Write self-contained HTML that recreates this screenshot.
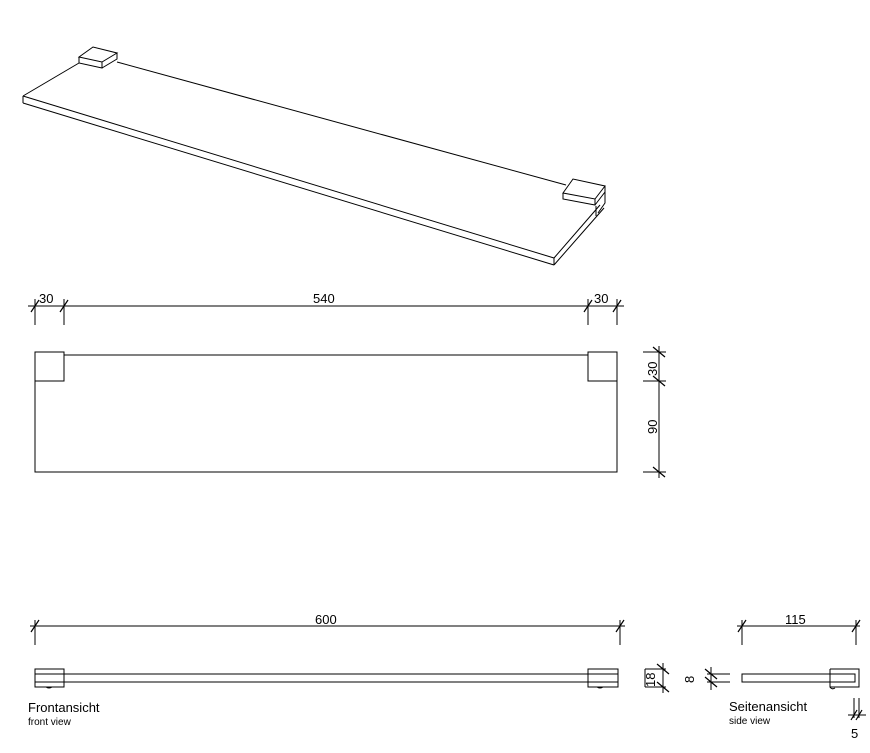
<!DOCTYPE html>
<html><head><meta charset="utf-8"><style>
html,body{margin:0;padding:0;background:#fff;}
svg{display:block;}
text{font-family:"Liberation Sans",Arial,sans-serif;fill:#000;}
</style></head><body>
<svg width="870" height="753" viewBox="0 0 870 753" xmlns="http://www.w3.org/2000/svg">
<g fill="none" stroke="#000" stroke-width="1">
<!-- isometric -->
<line x1="23" y1="96" x2="79" y2="63"/>
<line x1="23" y1="96" x2="23" y2="103"/>
<line x1="23" y1="96" x2="554" y2="258"/>
<line x1="23" y1="103" x2="554" y2="265"/>
<line x1="554" y1="258" x2="554" y2="265"/>
<line x1="554" y1="258" x2="600" y2="205"/>
<line x1="554" y1="265" x2="604" y2="208"/>
<line x1="117" y1="62" x2="566" y2="185"/>
<!-- left bracket -->
<polygon points="79,57 93,47 117,53 102,62" fill="#fff"/>
<polyline points="79,57 79,63 102,68 102,62"/>
<polyline points="102,68 117,59 117,53"/>
<!-- right bracket -->
<polygon points="563,193 573,179 605,186 595,199" fill="#fff"/>
<polyline points="563,193 563,199 595,205 595,199"/>
<polyline points="595,205 605,192 605,186"/>
<polyline points="605,192 605,203 598,213"/>
<line x1="596" y1="206" x2="596" y2="216"/>

<!-- top view dims -->
<line x1="28" y1="306" x2="624" y2="306"/>
<line x1="35" y1="299" x2="35" y2="325"/>
<line x1="64" y1="299" x2="64" y2="325"/>
<line x1="588" y1="299" x2="588" y2="325"/>
<line x1="617" y1="299" x2="617" y2="325"/>
<g stroke-width="1.2">
<line x1="31" y1="312" x2="39" y2="300"/><line x1="60" y1="312" x2="68" y2="300"/>
<line x1="584" y1="312" x2="592" y2="300"/><line x1="613" y1="312" x2="621" y2="300"/>
</g>
<!-- top view -->
<polyline points="35,352 35,472 617,472 617,352"/>
<rect x="35" y="352" width="29" height="29"/>
<rect x="588" y="352" width="29" height="29"/>
<line x1="64" y1="355" x2="588" y2="355"/>
<line x1="643" y1="352" x2="666" y2="352"/>
<line x1="643" y1="381" x2="666" y2="381"/>
<line x1="643" y1="472" x2="666" y2="472"/>
<line x1="659" y1="346" x2="659" y2="478"/>
<g stroke-width="1.2">
<line x1="653" y1="347" x2="665" y2="357"/><line x1="653" y1="376" x2="665" y2="386"/><line x1="653" y1="467" x2="665" y2="477"/>
</g>

<!-- front view dims -->
<line x1="30" y1="626" x2="625" y2="626"/>
<line x1="35" y1="620" x2="35" y2="645"/>
<line x1="620" y1="620" x2="620" y2="645"/>
<g stroke-width="1.2">
<line x1="31" y1="632" x2="39" y2="620"/><line x1="616" y1="632" x2="624" y2="620"/>
</g>
<!-- front view -->
<line x1="64" y1="674" x2="588" y2="674"/>
<line x1="64" y1="682" x2="588" y2="682"/>
<rect x="35" y="669" width="29" height="18"/>
<line x1="35" y1="674" x2="64" y2="674"/>
<line x1="35" y1="682" x2="64" y2="682"/>
<rect x="588" y="669" width="30" height="18"/>
<line x1="588" y1="674" x2="618" y2="674"/>
<line x1="588" y1="682" x2="618" y2="682"/>
<path d="M46,687 q3,2 6,0 M597,687 q3,2 6,0"/>
<!-- 18 dim -->
<line x1="645" y1="669" x2="666" y2="669"/>
<line x1="645" y1="687" x2="666" y2="687"/>
<line x1="663" y1="663" x2="663" y2="693"/>
<line x1="645" y1="669" x2="645" y2="687"/>
<g stroke-width="1.2"><line x1="657" y1="664" x2="669" y2="674"/><line x1="657" y1="682" x2="669" y2="692"/></g>
<!-- 8 dim -->
<line x1="707" y1="674" x2="730" y2="674"/>
<line x1="707" y1="682" x2="730" y2="682"/>
<line x1="711" y1="667" x2="711" y2="690"/>
<g stroke-width="1.2"><line x1="705" y1="669" x2="717" y2="679"/><line x1="705" y1="677" x2="717" y2="687"/></g>

<!-- side view dims -->
<line x1="737" y1="626" x2="860" y2="626"/>
<line x1="742" y1="620" x2="742" y2="645"/>
<line x1="856" y1="620" x2="856" y2="645"/>
<g stroke-width="1.2"><line x1="738" y1="632" x2="746" y2="620"/><line x1="852" y1="632" x2="860" y2="620"/></g>
<!-- side view -->
<rect x="742" y="674" width="88" height="8"/>
<polyline points="830,669 859,669 859,687 830,687 830,669"/>
<polyline points="830,674 855,674 855,682 830,682"/>
<path d="M830,687 q2,3 5,1"/>
<line x1="854" y1="698" x2="854" y2="718"/>
<line x1="859" y1="698" x2="859" y2="718"/>
<line x1="848" y1="715" x2="866" y2="715"/>
<g stroke-width="1.2"><line x1="851" y1="720" x2="857" y2="710"/><line x1="856" y1="720" x2="862" y2="710"/></g>
</g>

<text x="39" y="303" font-size="13">30</text>
<text x="313" y="303" font-size="13">540</text>
<text x="594" y="303" font-size="13">30</text>
<text transform="translate(657,376) rotate(-90)" font-size="13">30</text>
<text transform="translate(657,434) rotate(-90)" font-size="13">90</text>
<text x="315" y="624" font-size="13">600</text>
<text x="785" y="624" font-size="13">115</text>
<text transform="translate(655,687) rotate(-90)" font-size="13">18</text>
<text transform="translate(694,683) rotate(-90)" font-size="13">8</text>
<text x="851" y="738" font-size="13">5</text>
<text x="28" y="712" font-size="13">Frontansicht</text>
<text x="28" y="725" font-size="10">front view</text>
<text x="729" y="711" font-size="13">Seitenansicht</text>
<text x="729" y="724" font-size="10">side view</text>
</svg>
</body></html>
